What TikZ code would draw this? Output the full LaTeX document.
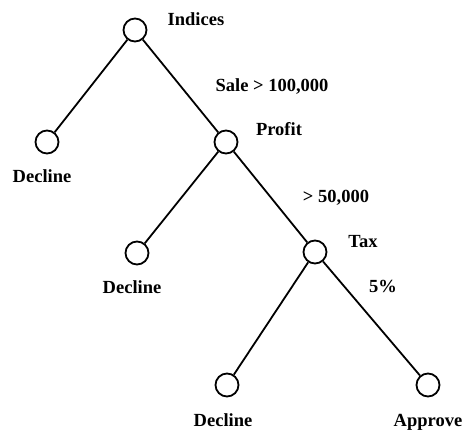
\documentclass[tikz,border=0pt]{standalone}
\usepackage{fontspec}
\setmainfont{Liberation Serif}
\usetikzlibrary{positioning}

\begin{document}
\begin{tikzpicture}[x=1pt, y=-1pt, line width=1.8pt,
	dnode/.style={circle, draw, minimum size=23pt, inner sep=0pt},
	lbl/.style={anchor=base, inner sep=0pt, font=\fontsize{18.5}{20}\selectfont\bfseries}]
	\useasboundingbox (0,0) rectangle (464,430);
	% decision nodes
	\node[dnode] (indices) at (135,30) {};
	\node[dnode] (decA) at (47,142) {};
	\node[dnode] (profit) at (226,142) {};
	\node[dnode] (decB) at (137,253) {};
	\node[dnode] (tax) at (315,252) {};
	\node[dnode] (decC) at (227,385) {};
	\node[dnode] (approve) at (428,385) {};
	% branches
	\draw (indices) -- (decA);
	\draw (indices) -- (profit);
	\draw (profit) -- (decB);
	\draw (profit) -- (tax);
	\draw (tax) -- (decC);
	\draw (tax) -- (approve);
	% labels
	\node[lbl] (tIndices) at (196,26) {Indices};
	\node[lbl] (tSale) at (272,92) {Sale > 100,000};
	\node[lbl] (tProfit) at (279,136) {Profit};
	\node[lbl] (tDecA) at (42,183) {Decline};
	\node[lbl] (tFifty) at (336,203) {> 50,000};
	\node[lbl] (tTax) at (363,248) {Tax};
	\node[lbl] (tDecB) at (132,294) {Decline};
	\node[lbl] (tFive) at (383,293) {5\%};
	\node[lbl] (tDecC) at (223,427) {Decline};
	\node[lbl] (tApprove) at (428,427) {Approve};
\end{tikzpicture}
\end{document}
